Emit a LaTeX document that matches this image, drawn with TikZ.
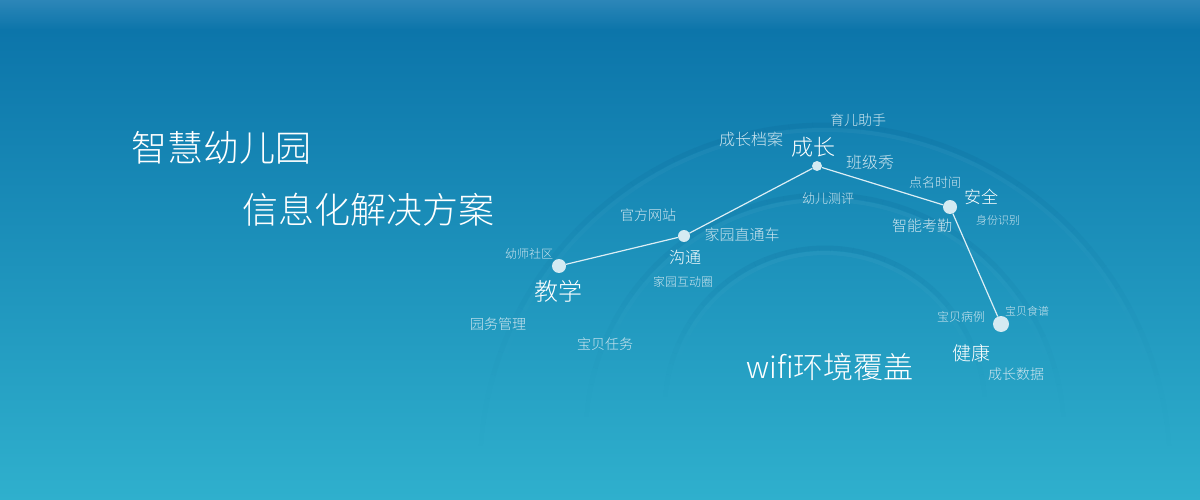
\documentclass[tikz,border=0pt]{standalone}
\usepackage{fontspec}
\IfFontExistsTF{Noto Sans CJK SC Light}{\setmainfont{Noto Sans CJK SC Light}}{\setmainfont{Noto Sans CJK SC}}
\definecolor{bgA}{RGB}{44,134,184}
\definecolor{bgB}{RGB}{12,117,170}
\definecolor{bgC}{RGB}{47,176,205}
\definecolor{arcdark}{RGB}{5,85,135}
\definecolor{dotc}{RGB}{212,234,242}
\definecolor{linec}{RGB}{220,238,245}
\definecolor{subc}{RGB}{205,229,239}
\newcommand{\px}[1]{\fontsize{#1pt}{#1pt}\selectfont}
\newcommand{\archpiece}[3]{%
  \foreach \a in {184,188,...,352}{%
    \pgfmathsetmacro\op{0.13*(abs(sin(\a+2)))^1.6}%
    \draw[arcdark, line width=5pt, draw opacity=\op]
      (#1,#2) ++(\a:#3) arc[start angle=\a, end angle=\a+4, radius=#3];
    \pgfmathsetmacro\opl{0.035*(abs(sin(\a+2)))^1.6}%
    \draw[white, line width=4pt, draw opacity=\opl]
      (#1,#2) ++(\a:#3-5) arc[start angle=\a, end angle=\a+4, radius=#3-5];
  }}
\tikzset{
  lbl/.style={text=white, inner sep=0pt},
  sub/.style={text=subc, inner sep=0pt},
  hub/.style={circle, fill=dotc, inner sep=0pt, minimum size=#1},
  link/.style={draw=linec, line width=1.2pt}
}
\begin{document}
\begin{tikzpicture}[x=1pt,y=-1pt]
\useasboundingbox (0,0) rectangle (1200,500);
% background
\shade[top color=bgA, bottom color=bgB] (0,0) rectangle (1200,30);
\shade[top color=bgB, bottom color=bgC] (0,30) rectangle (1200,500);
% faint concentric arches
\archpiece{825}{470}{345}
\archpiece{825}{434}{239}
\archpiece{825}{408}{160}
% titles
\node[lbl, font=\px{36}, anchor=west] (t1) at (131,148) {智慧幼儿园};
\node[lbl, font=\px{36}, anchor=west] (t2) at (242,210) {信息化解决方案};
\node[lbl, font=\px{30}] (wifi) at (830,367) {wifi环境覆盖};
% hubs
\node[hub=14pt] (jx) at (559,266) {};
\node[hub=12pt] (gt) at (684,236) {};
\node[hub=10pt] (cz) at (817,166) {};
\node[hub=14pt] (aq) at (950,207) {};
\node[hub=16pt] (jk) at (1001,324) {};
\draw[link] (jx) -- (gt) -- (cz) -- (aq) -- (jk);
% main labels
\node[lbl, font=\px{24}] (ljx) at (558,291) {教学};
\node[lbl, font=\px{16}] (lgt) at (685,257) {沟通};
\node[lbl, font=\px{22}] (lcz) at (813,147) {成长};
\node[lbl, font=\px{17}] (laq) at (981,197) {安全};
\node[lbl, font=\px{19}] (ljk) at (971,353) {健康};
% sub labels
\node[sub, font=\px{12}] (s1) at (529,254) {幼师社区};
\node[sub, font=\px{14}] (s2) at (498,324) {园务管理};
\node[sub, font=\px{14}] (s3) at (605,344) {宝贝任务};
\node[sub, font=\px{14}] (s4) at (648,215) {官方网站};
\node[sub, font=\px{15}] (s5) at (742,235) {家园直通车};
\node[sub, font=\px{12}] (s6) at (683,282) {家园互动圈};
\node[sub, font=\px{16}] (s7) at (751,139) {成长档案};
\node[sub, font=\px{14}] (s8) at (858,120) {育儿助手};
\node[sub, font=\px{16}] (s9) at (870,162) {班级秀};
\node[sub, font=\px{13}] (s10) at (828,199) {幼儿测评};
\node[sub, font=\px{13}] (s11) at (935,183) {点名时间};
\node[sub, font=\px{15}] (s12) at (922,226) {智能考勤};
\node[sub, font=\px{11}] (s13) at (998,220) {身份识别};
\node[sub, font=\px{12}] (s14) at (961,317) {宝贝病例};
\node[sub, font=\px{11}] (s15) at (1027,311) {宝贝食谱};
\node[sub, font=\px{14}] (s16) at (1016,374) {成长数据};
\end{tikzpicture}
\end{document}
